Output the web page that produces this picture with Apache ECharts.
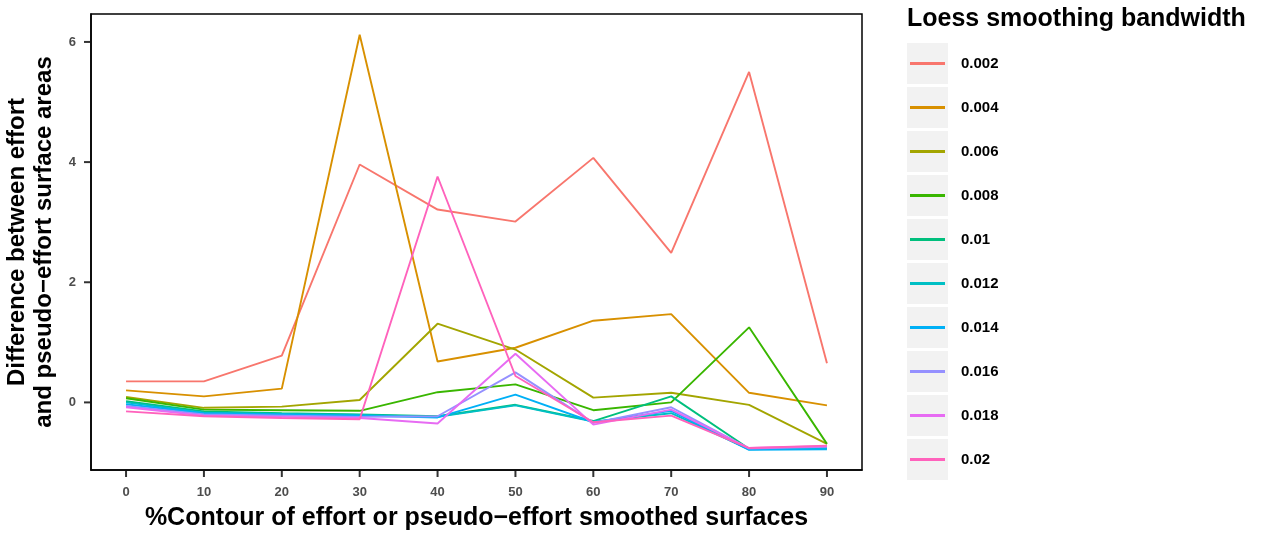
<!DOCTYPE html>
<html>
<head>
<meta charset="utf-8">
<script src="https://cdn.jsdelivr.net/npm/echarts@6/dist/echarts.min.js"></script>
<style>
html,body{margin:0;padding:0;background:#fff;}
#chart{width:1261px;height:536px;}
</style>
</head>
<body>
<div id="chart"></div>
<script>
// Data
const contours = [0, 10, 20, 30, 40, 50, 60, 70, 80, 90];
const bandwidths = ['0.002', '0.004', '0.006', '0.008', '0.01', '0.012', '0.014', '0.016', '0.018', '0.02'];
const bw002 = [0.35, 0.35, 0.78, 3.96, 3.21, 3.01, 4.07, 2.49, 5.50, 0.65];
const bw004 = [0.20, 0.10, 0.23, 6.12, 0.68, 0.91, 1.36, 1.47, 0.16, -0.05];
const bw006 = [0.09, -0.09, -0.07, 0.04, 1.31, 0.88, 0.08, 0.16, -0.04, -0.69];
const bw008 = [0.07, -0.12, -0.13, -0.14, 0.17, 0.30, -0.13, 0.00, 1.25, -0.69];
const bw010 = [0.02, -0.15, -0.18, -0.20, -0.23, -0.04, -0.31, 0.10, -0.77, -0.75];
const bw012 = [0.00, -0.17, -0.19, -0.21, -0.24, -0.05, -0.32, -0.18, -0.78, -0.76];
const bw014 = [-0.03, -0.18, -0.20, -0.22, -0.25, 0.13, -0.33, -0.14, -0.79, -0.78];
const bw016 = [-0.06, -0.20, -0.22, -0.24, -0.23, 0.50, -0.34, -0.08, -0.77, -0.74];
const bw018 = [-0.08, -0.22, -0.24, -0.26, -0.35, 0.81, -0.37, -0.12, -0.76, -0.73];
const bw020 = [-0.15, -0.23, -0.26, -0.28, 3.76, 0.44, -0.33, -0.22, -0.76, -0.72];
const yTicks = [0, 2, 4, 6];
const xTicks = [0, 10, 20, 30, 40, 50, 60, 70, 80, 90];
const xRange = [-4.5, 94.5];
const yRange = [-1.125, 6.465];

const allValues = [bw002, bw004, bw006, bw008, bw010, bw012, bw014, bw016, bw018, bw020];
const colors = ['#F8766D', '#D89000', '#A3A500', '#39B600', '#00BF7D', '#00BFC4', '#00B0F6', '#9590FF', '#E76BF3', '#FF62BC'];

const chart = echarts.init(document.getElementById('chart'), null, {renderer: 'canvas'});

const series = bandwidths.map((name, i) => ({
  name: name,
  type: 'line',
  data: contours.map((x, j) => [x, allValues[i][j]]),
  showSymbol: false,
  symbol: 'none',
  lineStyle: {width: 1.9, color: colors[i]},
  itemStyle: {color: colors[i]},
  animation: false,
  z: 2 + i
}));

// legend key backgrounds
const keyRects = bandwidths.map((b, i) => ({
  type: 'rect',
  left: 907,
  top: 43 + i * 44,
  shape: {width: 41, height: 41},
  style: {fill: '#F2F2F2'},
  z: 0
}));

const fontFam = '"Liberation Sans", Arial, sans-serif';
const labelText = {fontFamily: fontFam, fontSize: 13, fontWeight: 'bold', color: '#4D4D4D'};

chart.setOption({
  backgroundColor: '#ffffff',
  animation: false,
  color: colors,
  title: {
    text: 'Loess smoothing bandwidth',
    left: 902,
    top: 2,
    textStyle: {fontFamily: fontFam, fontSize: 25, fontWeight: 'bold', color: '#000'}
  },
  grid: {
    left: 91, right: 399, top: 14, bottom: 66,
    show: true, borderColor: '#000', borderWidth: 1.5, backgroundColor: 'transparent',
    containLabel: false,
    outerBoundsMode: 'none'
  },
  xAxis: {
    type: 'value',
    min: xRange[0], max: xRange[1],
    name: '%Contour of effort or pseudo\u2212effort smoothed surfaces',
    nameLocation: 'middle',
    nameGap: 36,
    nameTextStyle: {fontFamily: fontFam, fontSize: 25, fontWeight: 'bold', color: '#000'},
    axisLine: {show: true, onZero: false, lineStyle: {color: '#000', width: 1.5}},
    splitLine: {show: false},
    axisTick: {show: false},
    axisLabel: Object.assign({customValues: xTicks, margin: 16}, labelText)
  },
  yAxis: {
    type: 'value',
    min: yRange[0], max: yRange[1],
    name: 'Difference between effort\nand pseudo\u2212effort surface areas',
    nameLocation: 'middle',
    nameRotate: 90,
    nameGap: 22,
    nameTextStyle: {fontFamily: fontFam, fontSize: 24, fontWeight: 'bold', color: '#000', lineHeight: 27},
    axisLine: {show: true, onZero: false, lineStyle: {color: '#000', width: 1.5}},
    splitLine: {show: false},
    axisTick: {show: false},
    axisLabel: Object.assign({customValues: yTicks, margin: 15}, labelText)
  },
  legend: {
    orient: 'vertical',
    left: 905,
    top: 51,
    itemWidth: 35,
    itemHeight: 3,
    itemGap: 29,
    icon: 'rect',
    data: bandwidths,
    textStyle: {fontFamily: fontFam, fontSize: 15, fontWeight: 'bold', color: '#000', padding: [0, 0, 0, 11]},
    selectedMode: false
  },
  graphic: keyRects,
  series: series
});

// Tick marks positioned through the chart's own axis scales
const bottomY = chart.convertToPixel({yAxisIndex: 0}, yRange[0]);
const leftX = chart.convertToPixel({xAxisIndex: 0}, xRange[0]);
const tickLines = [];
xTicks.forEach(v => {
  const px = chart.convertToPixel({xAxisIndex: 0}, v);
  tickLines.push({
    type: 'line',
    shape: {x1: px, y1: bottomY + 1, x2: px, y2: bottomY + 7},
    style: {stroke: '#333', lineWidth: 2},
    z: 50, silent: true
  });
});
yTicks.forEach(v => {
  const py = chart.convertToPixel({yAxisIndex: 0}, v);
  tickLines.push({
    type: 'line',
    shape: {x1: leftX - 7, y1: py, x2: leftX - 1, y2: py},
    style: {stroke: '#333', lineWidth: 2},
    z: 50, silent: true
  });
});
chart.setOption({graphic: keyRects.concat(tickLines)});
</script>
</body>
</html>
